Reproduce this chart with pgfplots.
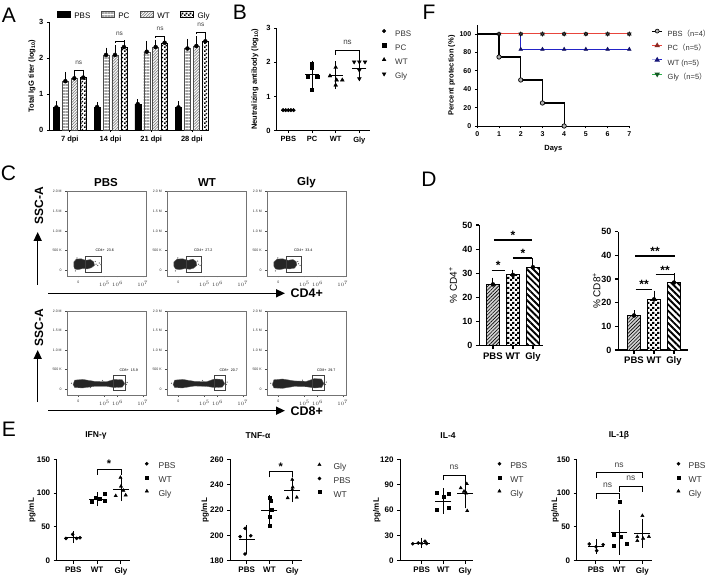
\documentclass[border=0pt]{standalone}
\usepackage{fontspec}
\setmainfont{Liberation Sans}
\newfontfamily\cjk{Noto Sans CJK SC}
\usepackage{pgfplots}
\pgfplotsset{compat=1.18}
\usetikzlibrary{patterns,patterns.meta,arrows.meta}
\definecolor{fred}{HTML}{E8453C}
\definecolor{fblue}{HTML}{2323C8}
\definecolor{fgreen}{HTML}{2DB04A}
\newcommand{\fs}[1]{\fontsize{#1}{#1}\selectfont}
\newcommand{\lp}{{\cjk （}}
\newcommand{\rp}{{\cjk ）}}
\tikzdeclarepattern{name=checkA, type=uncolored, bottom left={(0pt,0pt)}, top right={(4pt,4pt)}, tile size={(4pt,4pt)},
  code={\tikzset{x=1pt,y=1pt}\fill (0,0) rectangle (2,2); \fill (2,2) rectangle (4,4);}}
\tikzdeclarepattern{name=checkD, type=uncolored, bottom left={(0pt,0pt)}, top right={(5pt,5pt)}, tile size={(5pt,5pt)},
  code={\tikzset{x=1pt,y=1pt}\fill (0,0) rectangle (2.5,2.5); \fill (2.5,2.5) rectangle (5,5);}}
\pgfplotsset{
 gp/.style={scale only axis, anchor=south west, axis lines=left, axis line style={-,line width=0.8pt}, tick align=outside, major tick length=2.5pt, tick style={line width=0.8pt,black}, /pgf/number format/assume math mode=true, clip=false, ytick pos=left, xtick pos=left, tick label style={font=\bfseries\fs{7}}},
 yl/.style={ylabel style={at={([xshift=#1]axis description cs:0,0.5)}, anchor=center}},
 leg/.style={legend style={at={(axis description cs:0,1)}, anchor=north west, draw=none, fill=none, inner sep=0pt, outer sep=0pt, font=\fs{8}, text=black!80, nodes={inner sep=1pt, text height=6pt, text depth=1.5pt}}, legend cell align=left},
 mleg/.style={legend image code/.code={\draw[##1] plot coordinates {(0pt,2.8pt)};}},
 meanerr/.style={forget plot, only marks, black, mark=-, mark size=#1, mark options={line width=0.8pt}, error bars/y dir=both, error bars/y explicit, error bars/error bar style={line width=0.8pt, black}, error bars/error mark options={line width=0.8pt, mark size=4pt, black}},
 upbar/.style={forget plot, only marks, mark=none, black, error bars/y dir=plus, error bars/y explicit, error bars/error bar style={line width=#1, black}, error bars/error mark options={line width=#1, mark size=2pt, black}},
 flow/.style={scale only axis, anchor=south west, width=79.5pt, xmin=0, xmax=100, ymin=-0.15, ymax=2, axis line style={black!55, line width=0.4pt}, tick style={black!70, line width=0.4pt}, tick align=outside, major tick length=1.5pt, minor tick length=0.9pt, xtick pos=left, ytick pos=left, ytick={0,0.5,1,1.5,2}, yticklabels={0,500 K,1.0 M,1.5 M,2.0 M}, xtick={14.7,47.6,64,95.7}, xticklabels={0,$10^5$,$10^6$,$10^7$}, minor xtick={3,8,22,30,36,41,44,46,53,57,60,62,72,80,86,90,93}, tick label style={font=\fs{3.5}, text=black!80}, clip=false},
}
\begin{document}
\begin{tikzpicture}[x=1pt,y=1pt]
\useasboundingbox (0,0) rectangle (709,576);
\fill[white] (0,0) rectangle (709,576);
% panel letters
\node[font=\fs{21}] at (9,561) {A};
\node[font=\fs{21}] at (240,563.5) {B};
\node[font=\fs{21}] at (429,563.5) {F};
\node[font=\fs{21}] at (8.5,402.5) {C};
\node[font=\fs{21}] at (429,396.5) {D};
\node[font=\fs{21}] at (9,146.5) {E};

% ================= A
\begin{axis}[gp, at={(49.3pt,446pt)}, width=159.7pt, height=107.7pt,
 xmin=-0.504, xmax=3.42, ymin=0, ymax=3, ytick={0,1,2,3}, xtick={0,1,2,3},
 xticklabels={7 dpi,14 dpi,21 dpi,28 dpi}, tick label style={font=\bfseries\fs{7.5}},
 ylabel={Total IgG titer (log\textsubscript{10})}, ylabel style={font=\bfseries\fs{7.5}}, yl=-17.3pt,
 leg, legend columns=4, legend style={xshift=7.7pt, yshift=11.25pt, text=black,
   /tikz/every odd column/.append style={column sep=3pt}, /tikz/every even column/.append style={column sep=9.5pt}},
 legend image code/.code={\draw[#1] (0pt,0pt) rectangle (13pt,5.5pt);}]
\addplot[ybar, bar width=0.147, bar shift=0pt, fill=black, draw=black, line width=0.4pt] coordinates {(-0.33,0.63) (0.67,0.64) (1.67,0.72) (2.67,0.63)};
\addlegendentry{PBS}
\addplot[ybar, bar width=0.147, bar shift=0pt, draw=black!70, line width=0.4pt, pattern={Lines[angle=0,distance=1.5pt,line width=0.6pt]}, pattern color=gray!70] coordinates {(-0.11,1.36) (0.89,2.09) (1.89,2.18) (2.89,2.27)};
\addlegendentry{PC}
\addplot[ybar, bar width=0.147, bar shift=0pt, draw=black!70, line width=0.4pt, pattern={Lines[angle=45,distance=2pt,line width=0.7pt]}, pattern color=gray] coordinates {(0.11,1.44) (1.11,2.09) (2.11,2.31) (3.11,2.34)};
\addlegendentry{WT}
\addplot[ybar, bar width=0.147, bar shift=0pt, draw=black, line width=0.4pt, pattern=checkA, pattern color=black] coordinates {(0.33,1.46) (1.33,2.31) (2.33,2.43) (3.33,2.47)};
\addlegendentry{Gly}
\addplot[upbar=0.6pt] coordinates {(-0.33,0.63)+-(0,0.11) (0.67,0.64)+-(0,0.08) (1.67,0.72)+-(0,0.08) (2.67,0.63)+-(0,0.11)
 (-0.11,1.36)+-(0,0.20) (0.89,2.09)+-(0,0.15) (1.89,2.18)+-(0,0.25) (2.89,2.27)+-(0,0.21)
 (0.11,1.44)+-(0,0.13) (1.11,2.09)+-(0,0.22) (2.11,2.31)+-(0,0.15) (3.11,2.34)+-(0,0.21)
 (0.33,1.46)+-(0,0.16) (1.33,2.31)+-(0,0.13) (2.33,2.43)+-(0,0.10) (3.33,2.47)+-(0,0.17)};
\addplot[forget plot, black, line width=0.7pt] coordinates {(0.11,1.62) (0.11,1.67) (0.33,1.67) (0.33,1.62)};
\addplot[forget plot, black, line width=0.7pt] coordinates {(1.11,2.43) (1.11,2.48) (1.33,2.48) (1.33,2.43)};
\addplot[forget plot, black, line width=0.7pt] coordinates {(2.11,2.57) (2.11,2.62) (2.33,2.62) (2.33,2.57)};
\addplot[forget plot, black, line width=0.7pt] coordinates {(3.11,2.67) (3.11,2.72) (3.33,2.72) (3.33,2.67)};
\node[font=\fs{6.5}, text=black!75] at (axis cs:0.22,1.87) {ns};
\node[font=\fs{6.5}, text=black!75] at (axis cs:1.22,2.68) {ns};
\node[font=\fs{6.5}, text=black!75] at (axis cs:2.22,2.82) {ns};
\node[font=\fs{6.5}, text=black!75] at (axis cs:3.22,2.92) {ns};
\end{axis}

% ================= B
\begin{axis}[gp, at={(276.7pt,445.3pt)}, width=93.3pt, height=102.7pt,
 xmin=-0.49, xmax=3.45, ymin=0, ymax=3, ytick={0,1,2,3}, xtick={0,1,2,3},
 xticklabels={PBS,PC,WT,Gly}, tick label style={font=\bfseries\fs{7.5}},
 ylabel={Neutralizing antibody (log\textsubscript{10})}, ylabel style={font=\bfseries\fs{7.5}}, yl=-21.7pt,
 leg, mleg, legend style={xshift=105.5pt, yshift=-1.1pt, row sep=4.7pt, /tikz/every odd column/.append style={column sep=8.2pt}}]
\addplot[only marks, mark=*, mark size=1.8pt, black] coordinates {(-0.22,0.6) (-0.11,0.6) (0,0.6) (0.11,0.6) (0.22,0.6)};
\addlegendentry{PBS}
\addplot[only marks, mark=square*, mark size=1.7pt, black] coordinates {(1.0,1.96) (1.0,1.84) (0.82,1.58) (1.22,1.58) (1.0,1.2)};
\addlegendentry{PC}
\addplot[only marks, mark=triangle*, mark size=2.2pt, black] coordinates {(2.0,1.85) (1.76,1.6) (2.04,1.48) (2.28,1.48) (2.0,1.33)};
\addlegendentry{WT}
\addplot[only marks, mark=triangle*, mark options={rotate=180}, mark size=2.2pt, black] coordinates {(2.78,2.01) (3.0,2.01) (3.24,2.01) (3.0,1.77) (3.0,1.52)};
\addlegendentry{Gly}
\addplot[meanerr=7pt] coordinates {(1,1.65)+-(0,0.28) (2,1.62)+-(0,0.29) (3,1.83)+-(0,0.25)};
\addplot[forget plot, only marks, mark=-, mark size=7pt, mark options={line width=0.8pt}] coordinates {(0,0.6)};
\addplot[forget plot, black, line width=0.8pt] coordinates {(2,2.22) (2,2.35) (3,2.35) (3,2.22)};
\node[font=\fs{8}, text=black!75] at (axis cs:2.5,2.57) {ns};
\end{axis}

% ================= F
\begin{axis}[gp, at={(477.3pt,450pt)}, width=152pt, height=101.2pt,
 xmin=0, xmax=7, ymin=0, ymax=110, ytick={0,20,40,60,80,100}, xtick={0,...,7},
 xlabel={Days}, xlabel style={font=\bfseries\fs{7.5}, at={(axis description cs:0.5,0)}, anchor=center, yshift=-22.3pt},
 ylabel={Percent protection (\%)}, ylabel style={font=\bfseries\fs{7.5}}, yl=-25.6pt,
 leg, legend style={xshift=174.4pt, yshift=-4.3pt, row sep=4.7pt, font=\fs{7.5}, /tikz/every odd column/.append style={column sep=4pt}},
 legend image code/.code={\draw[mark repeat=2, mark phase=2, #1] plot coordinates {(0pt,2.8pt) (5pt,2.8pt) (10pt,2.8pt)};}]
\addlegendimage{black, line width=1pt, mark=*, mark size=2pt, mark options={fill=gray!60, draw=black, line width=0.6pt}}
\addlegendentry{PBS\lp n=4\rp}
\addlegendimage{fred, line width=1pt, mark=triangle*, mark size=2.2pt, mark options={fill=fred!60!black, draw=fred!60!black}}
\addlegendentry{PC\lp n=5\rp}
\addlegendimage{fblue, line width=1pt, mark=triangle*, mark size=2.2pt, mark options={fill=fblue!60!black, draw=fblue!60!black}}
\addlegendentry{WT (n=5)}
\addlegendimage{fgreen, line width=1pt, mark=triangle*, mark size=2.2pt, mark options={rotate=180, fill=fgreen!50!black, draw=fgreen!50!black}}
\addlegendentry{Gly\lp n=5\rp}
\addplot[forget plot, fgreen, line width=1pt] coordinates {(0,100) (7,100)};
\addplot[forget plot, fred, line width=1pt] coordinates {(0,100) (7,100)};
\addplot[forget plot, fblue, line width=1pt] coordinates {(2,100) (2,83.33) (7,83.33)};
\addplot[forget plot, black, line width=1.2pt] coordinates {(0,100) (1,100) (1,75) (2,75) (2,50) (3,50) (3,25) (4,25) (4,0)};
\addplot[forget plot, only marks, mark=triangle*, mark size=2.2pt, mark options={fill=black!75, draw=black}] coordinates {(1,100) (2,100) (3,100) (4,100) (5,100) (6,100) (7,100)};
\addplot[forget plot, only marks, mark=triangle*, mark size=2.2pt, mark options={rotate=180, fill=black!75, draw=black}] coordinates {(1,100) (2,100) (3,100) (4,100) (5,100) (6,100) (7,100)};
\addplot[forget plot, only marks, mark=triangle*, mark size=2.2pt, mark options={fill=fblue!50!black, draw=fblue!50!black}] coordinates {(2,83.33) (3,83.33) (4,83.33) (5,83.33) (6,83.33) (7,83.33)};
\addplot[forget plot, only marks, mark=*, mark size=2.2pt, mark options={fill=gray!60, draw=black, line width=0.7pt}] coordinates {(1,75) (2,50) (3,25) (4,0)};
\end{axis}

% ================= C (flow)
\node[font=\bfseries\fs{11.5}] at (106,393) {PBS};
\node[font=\bfseries\fs{11.5}] at (207,393) {WT};
\node[font=\bfseries\fs{11.5}] at (306.5,393) {Gly};
\node[font=\bfseries\fs{12}, rotate=90] at (39,370) {SSC-A};
\node[font=\bfseries\fs{12}, rotate=90] at (39,248) {SSC-A};
\draw[line width=1.5pt, -{Triangle[length=9pt,width=8pt]}] (37.7,291) -- (37.7,344);
\draw[line width=1.5pt, -{Triangle[length=9pt,width=8pt]}] (37.7,174) -- (37.7,226);
\draw[line width=1.5pt, -{Triangle[length=9pt,width=8pt]}] (48,282.7) -- (285,282.7);
\draw[line width=1.5pt, -{Triangle[length=9pt,width=8pt]}] (48,165.3) -- (285,165.3);
\node[font=\bfseries\fs{12.5}, anchor=west] at (287,282.7) {CD4+};
\node[font=\bfseries\fs{12.5}, anchor=west] at (287,165.3) {CD8+};

\begin{axis}[flow, at={(66.7pt,300pt)}, height=84.3pt]
\addplot[fill=black!85, draw=black!60, line width=0.3pt] coordinates {(9,0.09) (10,0.03) (14,0.01) (20,0.04) (26,0.03) (31,0.06) (35,0.12) (34,0.21) (30,0.27) (24,0.25) (18,0.29) (12,0.28) (9,0.21) (9,0.09)};
\addplot[only marks, mark=*, mark size=0.35pt, black!60] coordinates {(37,0.15) (39,0.12) (41,0.18) (36,0.22) (43,0.14) (11,-0.02) (13,0.31)};
\addplot[black!75, line width=0.4pt] coordinates {(23,-0.043) (44,-0.043) (44,0.365) (23,0.365) (23,-0.043)};
\node[font=\fs{3.6}, anchor=west] at (axis cs:31.8,0.51) {CD4+\ \ 23.6};
\end{axis}
\begin{axis}[flow, at={(166.7pt,300pt)}, height=84.3pt]
\addplot[fill=black!85, draw=black!60, line width=0.3pt] coordinates {(9,0.10) (11,0.03) (16,0.01) (23,0.04) (29,0.02) (34,0.05) (38,0.12) (37,0.22) (33,0.28) (27,0.25) (20,0.29) (13,0.28) (9,0.21) (9,0.10)};
\addplot[only marks, mark=*, mark size=0.35pt, black!60] coordinates {(40,0.15) (42,0.12) (44,0.18) (39,0.23) (11,-0.02) (14,0.31)};
\addplot[black!75, line width=0.4pt] coordinates {(23.9,-0.043) (43.1,-0.043) (43.1,0.365) (23.9,0.365) (23.9,-0.043)};
\node[font=\fs{3.6}, anchor=west] at (axis cs:30,0.51) {CD4+\ \ 27.2};
\end{axis}
\begin{axis}[flow, at={(266.7pt,300pt)}, height=84.3pt]
\addplot[fill=black!85, draw=black!60, line width=0.3pt] coordinates {(9,0.10) (11,0.03) (16,0.01) (23,0.04) (29,0.03) (35,0.05) (38,0.13) (37,0.22) (33,0.27) (27,0.25) (20,0.29) (13,0.28) (9,0.21) (9,0.10)};
\addplot[only marks, mark=*, mark size=0.35pt, black!60] coordinates {(40,0.16) (42,0.12) (39,0.22) (11,-0.02) (14,0.31)};
\addplot[black!75, line width=0.4pt] coordinates {(23.9,-0.043) (44,-0.043) (44,0.365) (23.9,0.365) (23.9,-0.043)};
\node[font=\fs{3.6}, anchor=west] at (axis cs:30,0.51) {CD4+\ \ 33.4};
\end{axis}
\begin{axis}[flow, at={(66.7pt,181pt)}, height=84pt]
\addplot[fill=black!85, draw=black!60, line width=0.3pt] coordinates {(8,0.12) (10,0.04) (20,0.03) (35,0.07) (50,0.07) (60,0.04) (70,0.05) (73,0.14) (70,0.24) (60,0.25) (50,0.19) (35,0.2) (20,0.25) (10,0.23) (8,0.12)};
\addplot[only marks, mark=*, mark size=0.35pt, black!60] coordinates {(75,0.12) (6,0.15) (45,0.22) (30,0.04) (76,0.17)};
\addplot[black!75, line width=0.4pt] coordinates {(58.6,-0.03) (73.3,-0.03) (73.3,0.36) (58.6,0.36) (58.6,-0.03)};
\node[font=\fs{3.6}, anchor=west] at (axis cs:62,0.49) {CD8+\ \ 15.9};
\end{axis}
\begin{axis}[flow, at={(166.7pt,181pt)}, height=84pt]
\addplot[fill=black!85, draw=black!60, line width=0.3pt] coordinates {(8,0.12) (10,0.04) (20,0.03) (35,0.08) (50,0.07) (60,0.04) (70,0.05) (73,0.14) (70,0.25) (60,0.26) (50,0.19) (35,0.2) (20,0.25) (10,0.23) (8,0.12)};
\addplot[only marks, mark=*, mark size=0.35pt, black!60] coordinates {(75,0.12) (6,0.15) (45,0.22) (76,0.18)};
\addplot[black!75, line width=0.4pt] coordinates {(59.5,-0.03) (74.2,-0.03) (74.2,0.36) (59.5,0.36) (59.5,-0.03)};
\node[font=\fs{3.6}, anchor=west] at (axis cs:62,0.49) {CD8+\ \ 20.7};
\end{axis}
\begin{axis}[flow, at={(266.7pt,181pt)}, height=84pt]
\addplot[fill=black!85, draw=black!60, line width=0.3pt] coordinates {(7,0.12) (9,0.03) (20,0.02) (35,0.07) (50,0.06) (60,0.03) (69,0.04) (72,0.14) (69,0.26) (60,0.27) (50,0.2) (35,0.21) (20,0.26) (9,0.24) (7,0.12)};
\addplot[only marks, mark=*, mark size=0.35pt, black!60] coordinates {(74,0.12) (5,0.15) (45,0.23) (75,0.18)};
\addplot[black!75, line width=0.4pt] coordinates {(57,-0.03) (72,-0.03) (72,0.36) (57,0.36) (57,-0.03)};
\node[font=\fs{3.6}, anchor=west] at (axis cs:59,0.49) {CD8+\ \ 29.7};
\end{axis}

% ================= D
\begin{axis}[gp, at={(479.3pt,230.3pt)}, width=64pt, height=120.7pt,
 xmin=-0.68, xmax=2.52, ymin=0, ymax=50, ytick={0,10,20,30,40,50}, xtick={0,1,2}, xticklabels={PBS,WT,Gly},
 axis line style={line width=1.2pt}, tick style={line width=1.2pt}, major tick length=3.5pt,
 yticklabel style={font=\bfseries\fs{9}}, xticklabel style={font=\bfseries\fs{9.5}},
 ylabel={\% CD4\textsuperscript{+}}, ylabel style={font=\fs{10}}, yl=-26.3pt]
\addplot[ybar, bar width=0.635, bar shift=0pt, draw=black, line width=1pt, fill=gray!35, postaction={pattern={Lines[angle=45,distance=2.5pt,line width=0.6pt]}}] coordinates {(0,25.4)};
\addplot[ybar, bar width=0.635, bar shift=0pt, draw=black, line width=1pt, fill=white, postaction={pattern=checkD}] coordinates {(1,29.3)};
\addplot[ybar, bar width=0.635, bar shift=0pt, draw=black, line width=1pt, fill=white, postaction={pattern={Lines[angle=-45,distance=4.4pt,line width=1.9pt]}}] coordinates {(2,32.5)};
\addplot[upbar=1pt, error bars/error mark options={line width=1pt, mark size=3.2pt, black}] coordinates {(0,25.4)+-(0,1.5) (1,29.3)+-(0,0.9) (2,32.5)+-(0,2.6)};
\addplot[forget plot, black, line width=1.2pt] coordinates {(-0.065,31.1) (0.6,31.1)};
\addplot[forget plot, black, line width=1.2pt] coordinates {(1.0,36.3) (1.95,36.3)};
\addplot[forget plot, black, line width=1.2pt] coordinates {(0.05,43.8) (1.95,43.8)};
\node[font=\bfseries\fs{12}] at (axis cs:0.27,33.2) {*};
\node[font=\bfseries\fs{12}] at (axis cs:1.5,38.4) {*};
\node[font=\bfseries\fs{12}] at (axis cs:1.0,45.9) {*};
\end{axis}
\begin{axis}[gp, at={(618.3pt,226pt)}, width=70pt, height=118.3pt,
 xmin=-0.785, xmax=2.715, ymin=0, ymax=50, ytick={0,10,20,30,40,50}, xtick={0,1,2}, xticklabels={PBS,WT,Gly},
 axis line style={line width=1.2pt}, tick style={line width=1.2pt}, major tick length=3.5pt,
 yticklabel style={font=\bfseries\fs{9}}, xticklabel style={font=\bfseries\fs{9.5}},
 ylabel={\% CD8\textsuperscript{+}}, ylabel style={font=\fs{10}}, yl=-21.6pt]
\addplot[ybar, bar width=0.665, bar shift=0pt, draw=black, line width=1pt, fill=gray!35, postaction={pattern={Lines[angle=45,distance=2.5pt,line width=0.6pt]}}] coordinates {(0,14.6)};
\addplot[ybar, bar width=0.665, bar shift=0pt, draw=black, line width=1pt, fill=white, postaction={pattern=checkD}] coordinates {(1,21.4)};
\addplot[ybar, bar width=0.665, bar shift=0pt, draw=black, line width=1pt, fill=white, postaction={pattern={Lines[angle=-45,distance=4.4pt,line width=1.9pt]}}] coordinates {(2,28.5)};
\addplot[upbar=1pt, error bars/error mark options={line width=1pt, mark size=3.2pt, black}] coordinates {(0,14.6)+-(0,0.9) (1,21.4)+-(0,2.3) (2,28.5)+-(0,2.5)};
\addplot[forget plot, black, line width=1.2pt] coordinates {(0.085,25.6) (0.915,25.6)};
\addplot[forget plot, black, line width=1.2pt] coordinates {(1.085,32) (2.05,32)};
\addplot[forget plot, black, line width=1.2pt] coordinates {(0.05,39.7) (2.05,39.7)};
\node[font=\bfseries\fs{12}] at (axis cs:0.5,27.7) {**};
\node[font=\bfseries\fs{12}] at (axis cs:1.55,33.7) {**};
\node[font=\bfseries\fs{12}] at (axis cs:1.05,41.8) {**};
\end{axis}

% ================= E
\pgfplotsset{eax/.style={gp, height=101.4pt, xtick={0,1,2}, xticklabels={PBS,WT,Gly},
 axis line style={line width=1pt}, tick style={line width=1pt}, major tick length=3pt,
 tick label style={font=\bfseries\fs{8}}, title style={font=\bfseries\fs{8.5}, anchor=center, yshift=17.6pt},
 ylabel={pg/mL}, ylabel style={font=\bfseries\fs{8}},
 leg, mleg, legend style={font=\fs{8.5}, row sep=4.2pt}}}
\begin{axis}[eax, at={(56.7pt,15.3pt)}, width=73.3pt, xmin=-0.7, xmax=2.38, ymin=0, ymax=150, ytick={0,50,100,150},
 title={IFN-γ}, title style={at={(axis description cs:0.536,1)}}, yl=-25pt,
 legend style={xshift=88.5pt, yshift=-2.5pt, /tikz/every odd column/.append style={column sep=9.1pt}}]
\addplot[only marks, mark=*, mark size=1.6pt, black] coordinates {(-0.31,33) (-0.03,39) (0.14,33) (0.28,34)};
\addlegendentry{PBS}
\addplot[only marks, mark=square*, mark size=1.5pt, black] coordinates {(0.75,87.3) (0.93,93.7) (1.11,91.3) (1.31,99.7) (1.31,88.3)};
\addlegendentry{WT}
\addplot[only marks, mark=triangle*, mark size=1.9pt, black] coordinates {(1.78,96) (1.98,123) (2.0,110) (2.2,97) (2.1,104)};
\addlegendentry{Gly}
\addplot[meanerr=8pt] coordinates {(0,35)+-(0,3) (1,91)+-(0,4.5) (2,106)+-(0,12)};
\addplot[forget plot, black, line width=0.8pt] coordinates {(1,127) (1,135.7) (2,135.7) (2,127)};
\node[font=\bfseries\fs{11}] at (axis cs:1.5,143.5) {*};
\end{axis}
\begin{axis}[eax, at={(230pt,15.3pt)}, width=71.7pt, xmin=-0.73, xmax=2.415, ymin=180, ymax=260, ytick={180,200,220,240,260},
 title={TNF-α}, title style={at={(axis description cs:0.39,1)}}, yl=-25pt,
 legend style={xshift=87.8pt, yshift=-3.5pt, /tikz/every odd column/.append style={column sep=11.5pt}}]
\addplot[only marks, mark=triangle*, mark size=1.9pt, black] coordinates {(2.0,244) (2.02,238) (1.8,229.5) (2.2,230) (2.0,236)};
\addlegendentry{Gly}
\addplot[only marks, mark=*, mark size=1.6pt, black] coordinates {(-0.07,205.5) (-0.29,199) (0.18,199.7) (-0.07,185.3)};
\addlegendentry{PBS}
\addplot[only marks, mark=square*, mark size=1.5pt, black] coordinates {(1.0,230) (1.05,227.5) (1.1,220.5) (1.0,214.5) (1.0,208)};
\addlegendentry{WT}
\addplot[meanerr=8pt] coordinates {(0,196.8)+-(0,8.4) (1,220)+-(0,8.7) (2,235.3)+-(0,6)};
\addplot[forget plot, black, line width=0.8pt] coordinates {(1,245.8) (1,250.3) (2,250.3) (2,245.8)};
\node[font=\bfseries\fs{11}] at (axis cs:1.5,254.3) {*};
\end{axis}
\begin{axis}[eax, at={(400pt,15.3pt)}, width=73.3pt, xmin=-1.0, xmax=2.38, ymin=0, ymax=120, ytick={0,30,60,90,120},
 title={IL-4}, title style={at={(axis description cs:0.655,1)}}, yl=-23.3pt,
 legend style={xshift=97.8pt, yshift=-2.5pt, /tikz/every odd column/.append style={column sep=8.2pt}}]
\addplot[only marks, mark=*, mark size=1.6pt, black] coordinates {(-0.41,20) (-0.16,21) (0,20.5) (0.15,23) (0.23,20.3)};
\addlegendentry{PBS}
\addplot[only marks, mark=square*, mark size=1.5pt, black] coordinates {(0.69,81) (1.0,75.8) (1.26,79) (0.69,60.8) (1.26,62.8)};
\addlegendentry{WT}
\addplot[only marks, mark=triangle*, mark size=1.9pt, black] coordinates {(1.8,86) (2.08,91) (2.05,80) (2.1,59) (1.95,82)};
\addlegendentry{Gly}
\addplot[meanerr=8pt] coordinates {(0,21)+-(0,1.5) (1,70.7)+-(0,10.2) (2,79.3)+-(0,12.7)};
\addplot[forget plot, black, line width=0.8pt] coordinates {(1,95.5) (1,101.5) (2,101.5) (2,95.5)};
\node[font=\fs{8.5}, text=black!75] at (axis cs:1.5,110.5) {ns};
\end{axis}
\begin{axis}[eax, at={(576.7pt,15.3pt)}, width=75pt, xmin=-0.83, xmax=2.4, ymin=0, ymax=150, ytick={0,50,100,150},
 title={IL-1β}, title style={at={(axis description cs:0.564,1)}}, yl=-21.7pt,
 legend style={xshift=100.1pt, yshift=-2.5pt, /tikz/every odd column/.append style={column sep=7.5pt}}]
\addplot[only marks, mark=*, mark size=1.6pt, black] coordinates {(-0.29,24.7) (0,20.7) (0.03,14.8) (0.31,23.7)};
\addlegendentry{PBS}
\addplot[only marks, mark=square*, mark size=1.5pt, black] coordinates {(1.0,87.3) (0.78,38) (1.08,35.5) (0.78,21.7) (1.33,24.7)};
\addlegendentry{WT}
\addplot[only marks, mark=triangle*, mark size=1.9pt, black] coordinates {(2.0,66.6) (1.78,35.5) (2.03,33) (2.28,35.5) (1.78,29.6)};
\addlegendentry{Gly}
\addplot[meanerr=8pt] coordinates {(0,20.7)+-(0,4.9) (1,42)+-(0,27) (2,40.5)+-(0,15.3)};
\addplot[forget plot, black, line width=0.8pt] coordinates {(0,92) (0,99.7) (1,99.7) (1,92)};
\addplot[forget plot, black, line width=0.8pt] coordinates {(1,102) (1,109.5) (2,109.5) (2,102)};
\addplot[forget plot, black, line width=0.8pt] coordinates {(0,123) (0,130) (2,130) (2,123)};
\node[font=\fs{8.5}, text=black!75] at (axis cs:0.5,112) {ns};
\node[font=\fs{8.5}, text=black!75] at (axis cs:1.5,122) {ns};
\node[font=\fs{8.5}, text=black!75] at (axis cs:1.0,141.6) {ns};
\end{axis}
\end{tikzpicture}
\end{document}
